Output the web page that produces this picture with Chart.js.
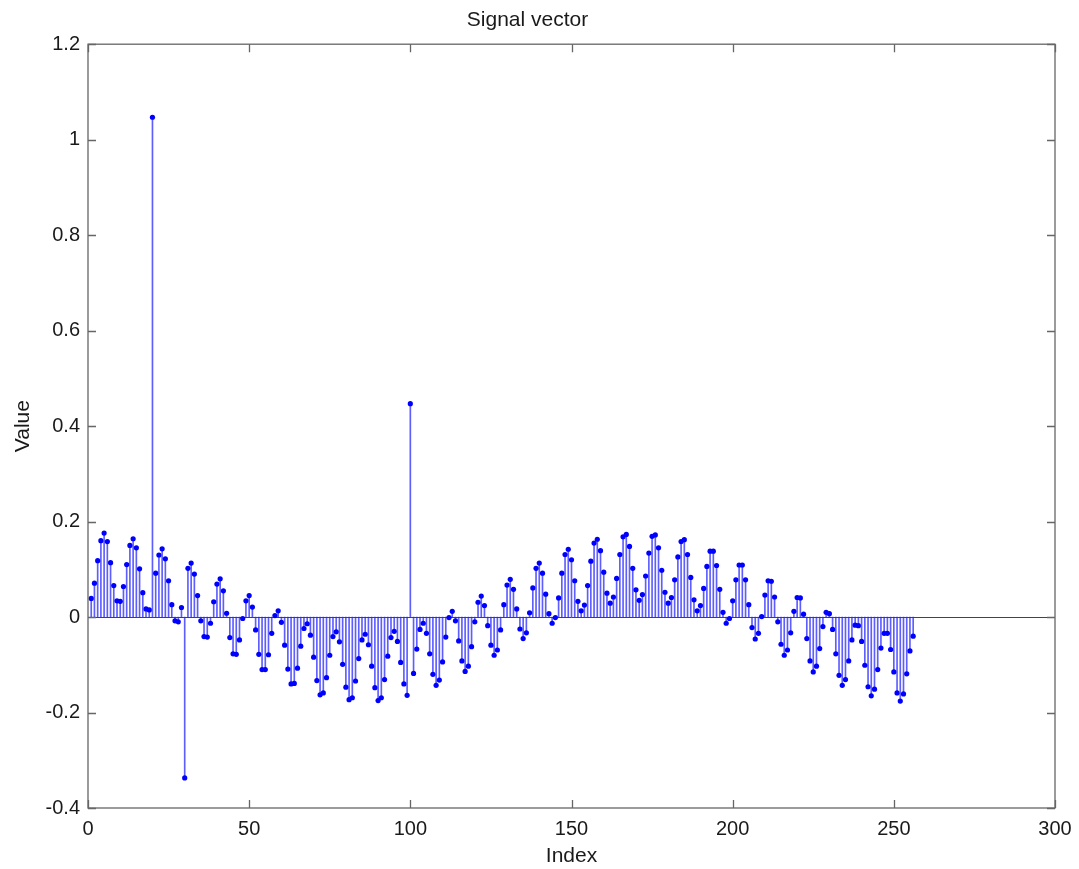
<!DOCTYPE html>
<html>
<head>
<meta charset="utf-8">
<script src="https://cdn.jsdelivr.net/npm/chart.js@4/dist/chart.umd.min.js"></script>
<style>
  html, body { margin: 0; padding: 0; background: #ffffff; }
  #wrap { width: 1079px; height: 869px; position: relative; }
</style>
</head>
<body>
<div id="wrap"><canvas id="c"></canvas></div>
<script>
// ---- data ----
const values = [
  0.039, 0.071, 0.118, 0.160, 0.176, 0.158, 0.114, 0.066, 0.034, 0.033,
  0.064, 0.110, 0.150, 0.164, 0.145, 0.101, 0.051, 0.017, 0.015, 1.047,
  0.092, 0.130, 0.143, 0.122, 0.076, 0.026, -0.008, -0.010, 0.020, -0.337,
  0.102, 0.113, 0.090, 0.045, -0.008, -0.041, -0.042, -0.013, 0.032, 0.069,
  0.080, 0.055, 0.008, -0.043, -0.077, -0.078, -0.048, -0.003, 0.034, 0.045,
  0.021, -0.027, -0.078, -0.110, -0.110, -0.079, -0.034, 0.003, 0.013, -0.011,
  -0.059, -0.109, -0.140, -0.139, -0.107, -0.061, -0.024, -0.014, -0.038, -0.084,
  -0.133, -0.163, -0.159, -0.127, -0.080, -0.041, -0.031, -0.052, -0.099, -0.147,
  -0.173, -0.169, -0.134, -0.087, -0.048, -0.036, -0.058, -0.103, -0.148, -0.175,
  -0.169, -0.131, -0.082, -0.043, -0.030, -0.051, -0.095, -0.140, -0.164, 0.447,
  -0.118, -0.067, -0.026, -0.013, -0.034, -0.077, -0.120, -0.143, -0.132, -0.094,
  -0.042, -0.001, 0.012, -0.008, -0.050, -0.092, -0.114, -0.103, -0.062, -0.010,
  0.031, 0.044, 0.024, -0.018, -0.059, -0.080, -0.069, -0.027, 0.026, 0.067,
  0.079, 0.058, 0.017, -0.025, -0.045, -0.033, 0.009, 0.061, 0.102, 0.113,
  0.092, 0.048, 0.007, -0.013, -0.001, 0.040, 0.092, 0.131, 0.142, 0.120,
  0.076, 0.033, 0.013, 0.025, 0.066, 0.117, 0.155, 0.163, 0.139, 0.094,
  0.050, 0.029, 0.042, 0.081, 0.131, 0.168, 0.173, 0.148, 0.102, 0.057,
  0.035, 0.047, 0.086, 0.134, 0.169, 0.172, 0.145, 0.098, 0.052, 0.029,
  0.041, 0.078, 0.126, 0.158, 0.162, 0.131, 0.083, 0.036, 0.013, 0.024,
  0.060, 0.106, 0.138, 0.138, 0.108, 0.058, 0.010, -0.013, -0.003, 0.034,
  0.078, 0.109, 0.109, 0.078, 0.026, -0.022, -0.046, -0.034, 0.001, 0.046,
  0.076, 0.075, 0.042, -0.010, -0.057, -0.080, -0.069, -0.033, 0.012, 0.041,
  0.040, 0.006, -0.045, -0.092, -0.115, -0.103, -0.066, -0.020, 0.010, 0.007,
  -0.026, -0.077, -0.122, -0.143, -0.131, -0.092, -0.048, -0.017, -0.018, -0.051,
  -0.101, -0.146, -0.165, -0.151, -0.110, -0.065, -0.034, -0.034, -0.068, -0.115,
  -0.159, -0.176, -0.161, -0.119, -0.071, -0.040
];
const indices = values.map((_, i) => i + 1);
const xTicks = [0, 50, 100, 150, 200, 250, 300];
const yTicks = [-0.4, -0.2, 0, 0.2, 0.4, 0.6, 0.8, 1, 1.2];
const titleText = 'Signal vector';
const xLabel = 'Index';
const yLabel = 'Value';

// ---- build ----
const points = indices.map((x, i) => ({ x: x, y: values[i] }));
const FONT = '"Liberation Sans", Arial, Helvetica, sans-serif';
const TEXT = '#1a1a1a';

const framePlugin = {
  id: 'frame',
  beforeDatasetsDraw(chart) {
    const { ctx, chartArea: a, scales } = chart;
    const y0 = scales.y.getPixelForValue(0);
    ctx.save();
    ctx.strokeStyle = '#444';
    ctx.lineWidth = 1;
    ctx.beginPath();
    ctx.moveTo(a.left, Math.round(y0) + 0.5);
    ctx.lineTo(a.right, Math.round(y0) + 0.5);
    ctx.stroke();
    ctx.restore();
  },
  afterDraw(chart) {
    const { ctx, chartArea: a, scales } = chart;
    const TL = 8;
    ctx.save();
    ctx.strokeStyle = '#666';
    ctx.lineWidth = 1.3;
    ctx.strokeRect(a.left, a.top, a.right - a.left, a.bottom - a.top);
    ctx.beginPath();
    scales.x.ticks.forEach(t => {
      const px = Math.round(scales.x.getPixelForValue(t.value)) + 0.5;
      ctx.moveTo(px, a.bottom); ctx.lineTo(px, a.bottom - TL);
      ctx.moveTo(px, a.top); ctx.lineTo(px, a.top + TL);
    });
    scales.y.ticks.forEach(t => {
      const py = Math.round(scales.y.getPixelForValue(t.value)) + 0.5;
      ctx.moveTo(a.left, py); ctx.lineTo(a.left + TL, py);
      ctx.moveTo(a.right, py); ctx.lineTo(a.right - TL, py);
    });
    ctx.stroke();
    ctx.restore();
  }
};

new Chart(document.getElementById('c'), {
  type: 'bar',
  data: {
    datasets: [
      {
        type: 'scatter',
        data: points,
        pointRadius: 2.6,
        pointBackgroundColor: '#0000ff',
        pointBorderWidth: 0,
        showLine: false,
        order: 0
      },
      {
        type: 'bar',
        data: points,
        barThickness: 1,
        backgroundColor: 'rgba(40,40,255,0.75)',
        borderWidth: 0,
        grouped: false,
        order: 1
      }
    ]
  },
  options: {
    responsive: true,
    maintainAspectRatio: false,
    animation: false,
    events: [],
    layout: { padding: { left: 0, right: 24, top: 0, bottom: 0 } },
    plugins: {
      legend: { display: false },
      tooltip: { enabled: false },
      title: {
        display: true,
        text: titleText,
        color: TEXT,
        font: { family: FONT, size: 21, weight: 'normal' },
        padding: { top: 8, bottom: 11 }
      }
    },
    scales: {
      x: {
        type: 'linear',
        min: 0,
        max: 300,
        offset: false,
        grid: { display: false, offset: false },
        border: { display: false },
        afterBuildTicks: s => { s.ticks = xTicks.map(v => ({ value: v })); },
        afterFit: s => { s.height = 61; },
        ticks: {
          color: TEXT,
          padding: 1,
          maxRotation: 0,
          autoSkip: false,
          font: { family: FONT, size: 20 },
          callback: v => String(v)
        },
        title: {
          display: true,
          text: xLabel,
          color: TEXT,
          font: { family: FONT, size: 21 },
          padding: { top: 0, bottom: 0 }
        }
      },
      y: {
        type: 'linear',
        min: -0.4,
        max: 1.2,
        grid: { display: false },
        border: { display: false },
        afterBuildTicks: s => { s.ticks = yTicks.map(v => ({ value: v })); },
        afterFit: s => { s.width = 88; },
        ticks: {
          color: TEXT,
          padding: 0,
          font: { family: FONT, size: 20 },
          callback: v => String(Number(v.toFixed(1)))
        },
        title: {
          display: true,
          text: yLabel,
          color: TEXT,
          font: { family: FONT, size: 21 },
          padding: { top: 11, bottom: 0 }
        }
      }
    }
  },
  plugins: [framePlugin]
});
</script>
</body>
</html>
